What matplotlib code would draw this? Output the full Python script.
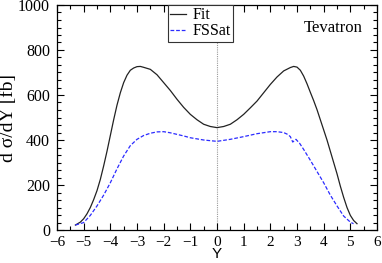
import matplotlib
matplotlib.use("Agg")
import matplotlib.pyplot as plt
from matplotlib.ticker import MultipleLocator, AutoMinorLocator

fit_x = [-5.31, -5.125, -5.0, -4.875, -4.75, -4.625, -4.5, -4.375, -4.25, -4.125, -4.0,
         -3.875, -3.75, -3.625, -3.5, -3.375, -3.25, -3.125, -3.0, -2.875, -2.75,
         -2.5, -2.25, -2.0, -1.75, -1.5, -1.25, -1.0, -0.75, -0.5, -0.25, 0.0,
         0.25, 0.5, 0.75, 1.0, 1.25, 1.5, 1.75, 2.0, 2.25, 2.5, 2.75, 2.875, 3.0,
         3.125, 3.25, 3.375, 3.5, 3.625, 3.75, 3.875, 4.0, 4.125, 4.25, 4.375, 4.5,
         4.625, 4.75, 4.875, 5.0, 5.125, 5.25]
fit_y = [22, 35, 50, 72, 100, 135, 175, 225, 285, 350, 420,
         490, 555, 610, 655, 688, 710, 720, 726, 727, 723,
         714, 690, 655, 620, 581, 545, 514, 490, 470, 460, 455,
         460, 470, 490, 514, 543, 573, 610, 647, 680, 707, 722, 727, 724,
         710, 684, 650, 612, 575, 535, 490, 445, 400, 350, 300, 250,
         195, 145, 100, 65, 42, 28]

fss_x = [-5.31, -5.0, -4.75, -4.5, -4.25, -4.0, -3.75, -3.5, -3.25, -3.0, -2.75, -2.5,
         -2.25, -2.0, -1.75, -1.5, -1.25, -1.0, -0.5, 0.0,
         0.5, 1.0, 1.5, 2.0, 2.25, 2.5, 2.65, 2.75, 2.84, 2.96, 3.1, 3.25, 3.5,
         3.75, 4.0, 4.25, 4.5, 4.75, 5.0, 5.12]
fss_y = [22, 33, 65, 107, 155, 210, 272, 329, 375, 403, 420, 430,
         436, 437, 432, 425, 418, 410, 400, 394,
         403, 415, 428, 437, 437, 433, 425, 415, 391, 403, 385, 358, 310,
         260, 210, 155, 107, 62, 35, 28]

labels = ["Fit", "FSSat"]
annotation = "Tevatron"

serif = ["Liberation Serif", "DejaVu Serif"]
sans = ["Liberation Sans", "DejaVu Sans"]

fig = plt.figure(figsize=(3.82, 2.63), dpi=100)
ax = fig.add_axes([57/382, 33/263, 320/382, 225/263])

ax.axvline(0, color="#999999", lw=0.8, ls=(0, (1, 1)), zorder=1)
ax.plot(fit_x, fit_y, color="#222222", lw=0.9, label=labels[0], zorder=3)
ax.plot(fss_x, fss_y, color="#2b2bff", lw=0.9, ls=(0, (3, 1.5)), label=labels[1], zorder=3)

ax.set_xlim(-6, 6)
ax.set_ylim(0, 1000)
ax.xaxis.set_major_locator(MultipleLocator(1))
ax.xaxis.set_minor_locator(MultipleLocator(0.5))
ax.yaxis.set_major_locator(MultipleLocator(200))
ax.yaxis.set_minor_locator(AutoMinorLocator(6))
ax.tick_params(which="both", direction="in", top=True, right=True, width=0.8)
ax.tick_params(which="major", length=5)
ax.tick_params(axis="x", which="major", pad=4, labelsize=11)
ax.tick_params(axis="y", which="major", pad=5, labelsize=11.5)
ax.tick_params(which="minor", length=3)
for lab in ax.get_xticklabels() + ax.get_yticklabels():
    lab.set_family(serif)
for s in ax.spines.values():
    s.set_linewidth(0.9)

fig.text(216.5/382, 1.5/263, "Y", family=sans, fontsize=11, ha="center", va="bottom")
ax.set_ylabel("d σ/dY [fb]", family=serif, fontsize=14, labelpad=1)

leg = ax.legend(loc="upper left", bbox_to_anchor=((168-57)/320, 1.0), borderaxespad=0,
                fancybox=False, edgecolor="#333333", framealpha=1, handlelength=1.0,
                handletextpad=0.4, borderpad=0.15, labelspacing=0.0,
                prop={"family": serif, "size": 11.5})
leg.get_frame().set_linewidth(0.8)

ax.text(0.955, 0.935, annotation, transform=ax.transAxes, ha="right", va="top",
        family=serif, fontsize=12)

fig.savefig("out.png", dpi=100)
